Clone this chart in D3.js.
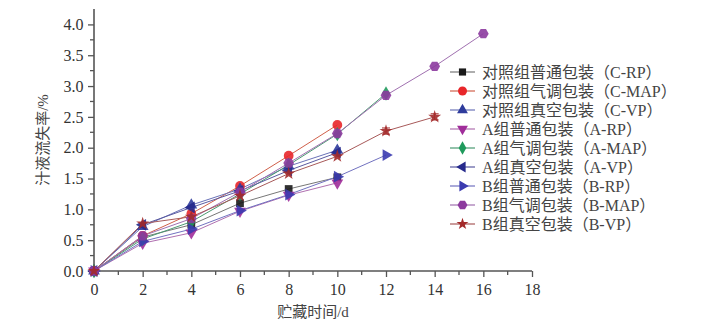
<!DOCTYPE html>
<html><head><meta charset="utf-8">
<script src="https://cdn.jsdelivr.net/npm/d3@7"></script>
<style>body{margin:0;background:#fff}svg{display:block}</style>
</head><body>
<svg id="c" width="702" height="328"></svg>
<script>
const days = [0, 2, 4, 6, 8, 10, 12, 14, 16];
const seriesNames = ["对照组普通包装（C-RP）","对照组气调包装（C-MAP）","对照组真空包装（C-VP）","A组普通包装（A-RP）","A组气调包装（A-MAP）","A组真空包装（A-VP）","B组普通包装（B-RP）","B组气调包装（B-MAP）","B组真空包装（B-VP）"];
const cRP  = [0, 0.55, 0.75, 1.10, 1.33, 1.52];
const cMAP = [0, 0.57, 0.93, 1.38, 1.87, 2.37];
const cVP  = [0, 0.72, 1.07, 1.33, 1.70, 1.96];
const aRP  = [0, 0.45, 0.62, 0.97, 1.23, 1.43];
const aMAP = [0, 0.52, 0.80, 1.25, 1.72, 2.22, 2.88];
const aVP  = [0, 0.75, 1.03, 1.30, 1.63, 1.92];
const bRP  = [0, 0.48, 0.68, 0.98, 1.24, 1.53, 1.88];
const bMAP = [0, 0.57, 0.85, 1.28, 1.75, 2.23, 2.85, 3.32, 3.85];
const bVP  = [0, 0.77, 0.88, 1.22, 1.58, 1.86, 2.27, 2.50];
const bVPErr = [0, 0, 0, 0, 0, 0, 0.05, 0.05];
const xTicks = [0, 2, 4, 6, 8, 10, 12, 14, 16, 18];
const yTicks = [0, 0.5, 1.0, 1.5, 2.0, 2.5, 3.0, 3.5, 4.0];
const xTitle = "贮藏时间/d";
const yTitle = "汁液流失率/%";

const allValues = [cRP, cMAP, cVP, aRP, aMAP, aVP, bRP, bMAP, bVP];
const colors = ["#1a1a1a","#e8262a","#2e3b9c","#a02d9a","#1f9a5c","#262a8c","#3b3bb0","#8c3a9e","#a32a2a"];
const lineColors = ["#777","#d0604a","#6a72b8","#b070b0","#4a9a72","#5a5aa0","#7272c0","#a070b0","#a85a5a"];

const W = 702, H = 328;
const x = d3.scaleLinear().domain([0, 18]).range([94, 532]);
const y = d3.scaleLinear().domain([0, 4.25]).range([271, 9]);

const svg = d3.select("#c");
const font = "'Liberation Serif','Times New Roman','Noto Sans CJK SC',serif";

// custom symbols
const hexagon = {draw(ctx, size){ const r = Math.sqrt(size/2.598); for(let i=0;i<6;i++){const a=Math.PI/3*i; const px=r*Math.cos(a), py=r*Math.sin(a); i?ctx.lineTo(px,py):ctx.moveTo(px,py);} ctx.closePath(); }};
const symbols = [
  {t: d3.symbolSquare, rot: 0, s: 60},
  {t: d3.symbolCircle, rot: 0, s: 75},
  {t: d3.symbolTriangle, rot: 0, s: 60},
  {t: d3.symbolTriangle, rot: 180, s: 60},
  {t: d3.symbolDiamond, rot: 0, s: 60},
  {t: d3.symbolTriangle, rot: -90, s: 60},
  {t: d3.symbolTriangle, rot: 90, s: 60},
  {t: hexagon, rot: 0, s: 75},
  {t: d3.symbolStar, rot: 0, s: 52}
];

// axes
const xAxis = d3.axisBottom(x).tickValues(xTicks).tickSize(6).tickFormat(d3.format("d"));
const gx = svg.append("g").attr("transform", "translate(0,271)").call(xAxis);
const xMinor = d3.range(1, 18, 2);
gx.selectAll(".minor").data(xMinor).join("line").attr("class","minor")
  .attr("x1", d => x(d)).attr("x2", d => x(d)).attr("y1", 0).attr("y2", 4);
const yAxis = d3.axisLeft(y).tickValues(yTicks).tickSize(6).tickFormat(d3.format(".1f"));
const gy = svg.append("g").attr("transform", "translate(94,0)").call(yAxis);
const yMinor = d3.range(0.25, 4.25, 0.5);
gy.selectAll(".minor").data(yMinor).join("line").attr("class","minor")
  .attr("x1", 0).attr("x2", -4).attr("y1", d => y(d)).attr("y2", d => y(d));
[gx, gy].forEach(g => {
  g.select(".domain").attr("stroke", "#555").attr("stroke-width", 1.6);
  g.selectAll("line").attr("stroke", "#555").attr("stroke-width", 1.3);
  g.selectAll("text").attr("font-family", font).attr("font-size", 16).attr("fill", "#333");
});
gx.select(".domain").attr("d", `M${x(0)},0H${x(18)}`);
gy.select(".domain").attr("d", `M0,${y(0)}V${y(4.25)}`);
gx.selectAll(".tick text").attr("dy", "0.95em");
gy.selectAll(".tick text").attr("dx", "-0.1em");

// titles
svg.append("text").attr("x", x(9)).attr("y", 317).attr("text-anchor","middle")
  .attr("font-family", font).attr("font-size", 15).attr("fill", "#444").text(xTitle);
svg.append("text").attr("transform", "translate(48,140) rotate(-90)").attr("text-anchor","middle")
  .attr("font-family", font).attr("font-size", 15).attr("fill", "#444").text(yTitle);

// series
const line = d3.line().x((d,i) => x(days[i])).y(d => y(d));
allValues.forEach((vals, k) => {
  svg.append("path").attr("d", line(vals)).attr("fill","none")
    .attr("stroke", lineColors[k]).attr("stroke-width", 1);
});
// error bars for B-VP
bVP.forEach((v, i) => {
  const e = bVPErr[i]; if (!e) return;
  const g = svg.append("g").attr("stroke", colors[8]).attr("stroke-width", 1);
  g.append("line").attr("x1", x(days[i])).attr("x2", x(days[i])).attr("y1", y(v - e)).attr("y2", y(v + e));
  g.append("line").attr("x1", x(days[i]) - 4).attr("x2", x(days[i]) + 4).attr("y1", y(v - e)).attr("y2", y(v - e));
  g.append("line").attr("x1", x(days[i]) - 4).attr("x2", x(days[i]) + 4).attr("y1", y(v + e)).attr("y2", y(v + e));
});
allValues.forEach((vals, k) => {
  const sym = d3.symbol().type(symbols[k].t).size(symbols[k].s);
  svg.append("g").selectAll("path").data(vals).join("path")
    .attr("d", sym())
    .attr("transform", (d,i) => `translate(${x(days[i])},${y(d)}) rotate(${symbols[k].rot})`)
    .attr("fill", colors[k]).attr("fill-opacity", 0.9);
});

// legend
const lg = svg.append("g").attr("transform", "translate(450,72)");
seriesNames.forEach((name, k) => {
  const g = lg.append("g").attr("transform", `translate(0,${k * 19})`);
  g.append("line").attr("x1", 0).attr("x2", 25).attr("y1", 0).attr("y2", 0)
    .attr("stroke", lineColors[k]).attr("stroke-width", 1.2);
  const sym = d3.symbol().type(symbols[k].t).size(symbols[k].s * 0.85);
  g.append("path").attr("d", sym()).attr("transform", `translate(12.5,0) rotate(${symbols[k].rot})`)
    .attr("fill", colors[k]);
  g.append("text").attr("x", 32).attr("y", 0).attr("dy", "0.35em")
    .attr("font-family", font).attr("font-size", 16).attr("fill", "#444").text(name);
});
</script>
</body></html>
